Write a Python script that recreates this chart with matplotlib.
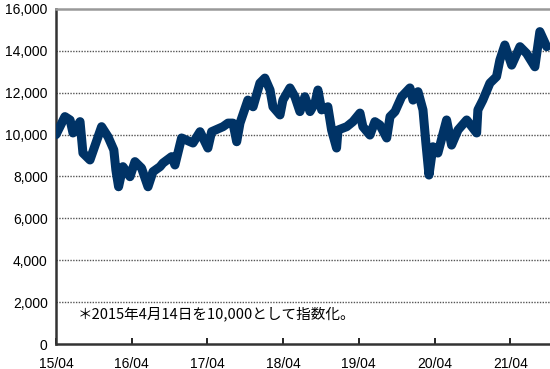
import matplotlib
matplotlib.use("Agg")
import matplotlib.pyplot as plt
import pandas as pd

plt.rcParams['font.family'] = ['Liberation Sans', 'Noto Sans CJK JP', 'DejaVu Sans']

dates = [
    "2015-04-14", "2015-05-27", "2015-06-21", "2015-07-05", "2015-08-08", "2015-08-22",
    "2015-09-25", "2015-11-20", "2015-12-21", "2016-01-18", "2016-01-28", "2016-02-10",
    "2016-03-02", "2016-04-05", "2016-04-29", "2016-05-31", "2016-07-01", "2016-07-25",
    "2016-08-28", "2016-09-11", "2016-10-23", "2016-11-08", "2016-12-10", "2017-02-03",
    "2017-03-09", "2017-04-16", "2017-05-04", "2017-06-28", "2017-07-22", "2017-08-15",
    "2017-09-02", "2017-09-18", "2017-10-26", "2017-11-20", "2017-12-23", "2018-01-16",
    "2018-02-10", "2018-02-24", "2018-03-30", "2018-04-13", "2018-05-17", "2018-06-10",
    "2018-07-04", "2018-07-28", "2018-08-22", "2018-09-15", "2018-09-29", "2018-10-17",
    "2018-11-16", "2018-12-04", "2018-12-28", "2019-01-04", "2019-02-15", "2019-03-17",
    "2019-04-20", "2019-05-04", "2019-06-07", "2019-07-01", "2019-07-25", "2019-08-27",
    "2019-09-12", "2019-10-06", "2019-11-07", "2019-12-17", "2020-01-01", "2020-01-25",
    "2020-02-18", "2020-03-03", "2020-03-18", "2020-04-06", "2020-04-30", "2020-06-11",
    "2020-07-05", "2020-08-05", "2020-09-16", "2020-11-03", "2020-11-09", "2020-12-03",
    "2021-01-06", "2021-02-07", "2021-02-23", "2021-03-19", "2021-04-21", "2021-05-31",
    "2021-07-02", "2021-08-11", "2021-09-04", "2021-10-07",
]
values = [
    10000, 10860, 10700, 10080, 10620, 9120,
    8790, 10380, 9900, 9270, 8310, 7510,
    8470, 7990, 8710, 8400, 7510, 8230,
    8470, 8640, 8950, 8550, 9840, 9600,
    10140, 9360, 10140, 10380, 10550, 10550,
    9660, 10550, 11650, 11330, 12460, 12700,
    12130, 11330, 10940, 11650, 12230, 11810,
    11100, 11810, 11100, 11510, 12130, 11180,
    11330, 10220, 9360, 10220, 10380, 10620,
    11030, 10380, 9980, 10620, 10460, 9840,
    10860, 11100, 11810, 12230, 11650, 12050,
    11180, 9600, 8070, 9420, 9120, 10700,
    9500, 10220, 10700, 10080, 11180, 11650,
    12460, 12770, 13560, 14280, 13320, 14200,
    13880, 13240, 14920, 14200,
]
tick_dates = ["2015-04-14", "2016-04-14", "2017-04-14", "2018-04-14",
              "2019-04-14", "2020-04-14", "2021-04-14"]
tick_labels = ["15/04", "16/04", "17/04", "18/04", "19/04", "20/04", "21/04"]
y_ticks = [0, 2000, 4000, 6000, 8000, 10000, 12000, 14000, 16000]
note = "＊2015年4月14日を10,000として指数化。"

x = pd.to_datetime(dates)

fig = plt.figure(figsize=(5.5, 3.69), dpi=100)
ax = fig.add_axes([56/550, 25/369, 1 - 56/550, (344 - 9)/369])

ax.plot(x, values, color='#003366', linewidth=6.5, solid_joinstyle='round',
        solid_capstyle='round', zorder=3)

ax.set_xlim(pd.Timestamp("2015-04-14"), pd.Timestamp("2021-10-23"))
ax.set_ylim(0, 16000)
ax.set_yticks(y_ticks)
ax.set_yticklabels([f"{v:,}" for v in y_ticks])
ax.set_xticks(pd.to_datetime(tick_dates))
ax.set_xticklabels(tick_labels)

for v in y_ticks[1:-1]:
    ax.axhline(v, color='#555555', linestyle=(0, (1, 1)), linewidth=1, zorder=1)

ax.tick_params(axis='y', length=0, pad=6, labelsize=10, colors='#000000')
ax.tick_params(axis='x', direction='in', length=4, width=1.2, pad=9,
               labelsize=10, colors='#000000')

for s in ['left', 'bottom']:
    ax.spines[s].set_color('#333333')
    ax.spines[s].set_linewidth(1.8)
ax.spines['top'].set_color('#999999')
ax.spines['top'].set_linewidth(1.8)
ax.spines['right'].set_visible(False)

ax.text(0.043, 1450, note, transform=ax.get_yaxis_transform(),
        fontsize=10.5, family=['Noto Sans CJK JP', 'DejaVu Sans'],
        va='center', ha='left', color='#000000')

fig.savefig("out.png", dpi=100)
